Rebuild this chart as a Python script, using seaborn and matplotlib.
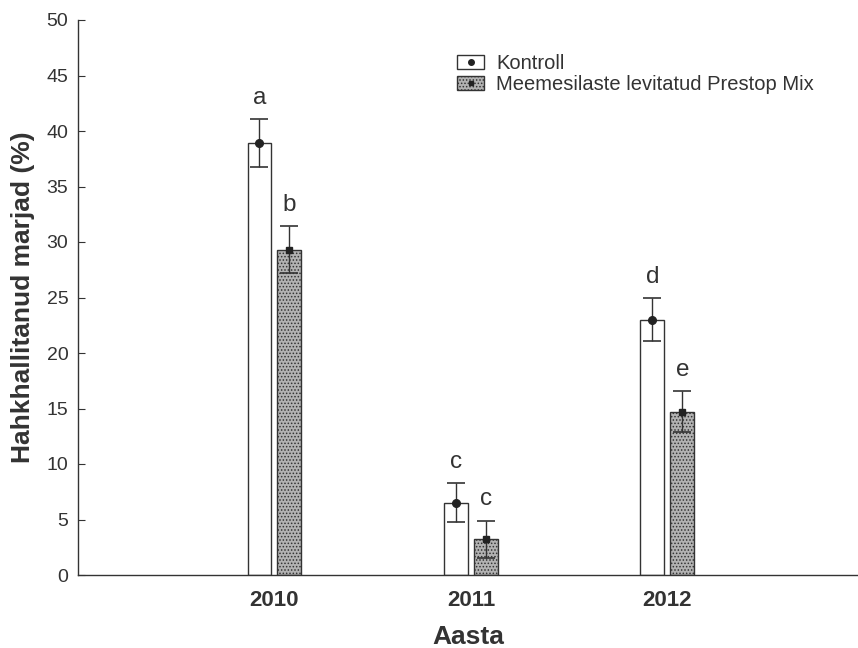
import numpy as np
import pandas as pd
import matplotlib
matplotlib.use("Agg")
import matplotlib.pyplot as plt
import seaborn as sns
from matplotlib.patches import Patch
from matplotlib.lines import Line2D

years = ["2010", "2011", "2012"]
groups = ["Kontroll", "Meemesilaste levitatud Prestop Mix"]
kontroll = [38.9, 6.5, 23.0]
prestop = [29.3, 3.2, 14.7]
kontroll_err = [2.15, 1.75, 1.95]
prestop_err = [2.1, 1.7, 1.85]
kontroll_letters = ["a", "c", "d"]
prestop_letters = ["b", "c", "e"]

sns.set_style("ticks")
plt.rcParams["font.family"] = ["Liberation Sans", "DejaVu Sans"]
plt.rcParams["hatch.linewidth"] = 0.7

df = pd.DataFrame({
    "Aasta": years * 2,
    "value": kontroll + prestop,
    "group": [groups[0]] * 3 + [groups[1]] * 3,
})

line_col = "#333333"
cap_col = "#6e3a30"
grey = "#b2b2b2"

fig = plt.figure(figsize=(8.58, 6.48), dpi=100)
ax = fig.add_axes([78 / 858, 73 / 648, 780 / 858, 555 / 648])

sns.barplot(data=df, x="Aasta", y="value", hue="group",
            palette=["white", grey], width=0.305, gap=0.2,
            errorbar=None, edgecolor=line_col, linewidth=1,
            legend=False, ax=ax)

for bar in ax.containers[1]:
    bar.set_hatch(".....")

# error bars, mean markers and significance letters
for cont, errs, letters, mk, ms in [
    (ax.containers[0], kontroll_err, kontroll_letters, "o", 5.5),
    (ax.containers[1], prestop_err, prestop_letters, "s", 4),
]:
    xs = [b.get_x() + b.get_width() / 2 for b in cont]
    hs = [b.get_height() for b in cont]
    _, caps, _ = ax.errorbar(xs, hs, yerr=errs, fmt="none", ecolor=line_col,
                             elinewidth=1, capsize=6.5, capthick=1.2, zorder=4)
    for c in caps:
        c.set_color(cap_col)
    ax.plot(xs, hs, marker=mk, ls="none", color="#222222", ms=ms, zorder=5)
    for x, h, e, t in zip(xs, hs, errs, letters):
        ax.text(x, h + e + 1.4, t, ha="center", va="baseline",
                fontsize=17.5, color=line_col)

ax.set_xlim(-1, 2.97)
ax.set_ylim(0, 50)
ax.set_yticks(np.arange(0, 51, 5))
sns.despine(ax=ax)
for s in ["left", "bottom"]:
    ax.spines[s].set_color(line_col)
    ax.spines[s].set_linewidth(1)
ax.tick_params(axis="y", direction="in", length=5, labelsize=14,
               colors=line_col, pad=7)
ax.tick_params(axis="x", length=0, labelsize=16, colors=line_col, pad=11)
for lbl in ax.get_xticklabels():
    lbl.set_fontweight("bold")

ax.set_xlabel("Aasta", fontsize=19, fontweight="bold", color=line_col,
              labelpad=10)
ax.set_ylabel("Hahkhallitanud marjad (%)", fontsize=19, fontweight="bold",
              color=line_col, labelpad=8)

handles = [
    (Patch(facecolor="white", edgecolor=line_col),
     Line2D([], [], marker="o", ls="none", color="#222222", ms=4)),
    (Patch(facecolor=grey, edgecolor=line_col, hatch="....."),
     Line2D([], [], marker="s", ls="none", color="#222222", ms=3)),
]
fig.legend(handles, groups, loc="upper left",
           bbox_to_anchor=(457 / 858, 1 - 54 / 648),
           bbox_transform=fig.transFigure, frameon=False,
           fontsize=14.5, handlelength=1.35, handleheight=0.67,
           handletextpad=0.6, labelspacing=0.1, borderpad=0,
           borderaxespad=0, labelcolor=line_col)

fig.savefig("out.png", dpi=100, facecolor="white")
